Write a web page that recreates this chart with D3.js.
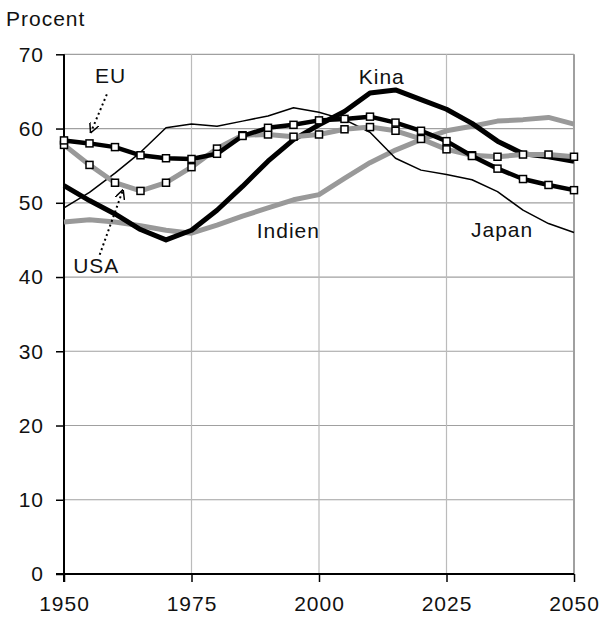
<!DOCTYPE html>
<html>
<head>
<meta charset="utf-8">
<script src="https://cdn.jsdelivr.net/npm/d3@7"></script>
<style>
  body { margin: 0; background: #fff; }
  text { font-family: "Liberation Sans", Arial, sans-serif; fill: #111; }
</style>
</head>
<body>
<svg id="chart" width="603" height="620"></svg>
<script>
// years every 5th year, 1950-2050
const years = d3.range(1950, 2051, 5);

// share of population, percent
const eu     = [58.4, 58.0, 57.5, 56.4, 56.0, 55.9, 56.6, 59.0, 60.1, 60.5, 61.1, 61.3, 61.6, 60.8, 59.7, 58.3, 56.3, 54.6, 53.2, 52.4, 51.7];
const usa    = [57.8, 55.1, 52.7, 51.6, 52.7, 54.8, 57.3, 59.1, 59.2, 58.9, 59.2, 59.9, 60.2, 59.7, 58.6, 57.2, 56.4, 56.2, 56.5, 56.5, 56.2];
const kina   = [52.3, 50.3, 48.5, 46.4, 45.0, 46.3, 49.0, 52.2, 55.6, 58.5, 60.5, 62.3, 64.8, 65.2, 63.9, 62.6, 60.7, 58.3, 56.6, 56.2, 55.6];
const indien = [47.4, 47.7, 47.4, 46.9, 46.3, 45.9, 47.0, 48.2, 49.3, 50.4, 51.1, 53.3, 55.4, 57.1, 58.5, 59.7, 60.3, 61.0, 61.2, 61.5, 60.6];
const japan  = [49.3, 51.4, 54.0, 56.8, 60.1, 60.6, 60.3, 61.0, 61.7, 62.8, 62.2, 61.2, 59.5, 56.0, 54.4, 53.8, 53.1, 51.5, 49.0, 47.2, 46.0];

const xTicks = [1950, 1975, 2000, 2025, 2050];
const yTicks = [0, 10, 20, 30, 40, 50, 60, 70];

// series labels [text, year, value]
const labels = [
  ["EU", 1956.1, 66.2],
  ["USA", 1951.8, 40.6],
  ["Indien", 1987.8, 45.3],
  ["Kina", 2007.8, 66.0],
  ["Japan", 2029.8, 45.4]
];
// dotted pointer arrows [fromYear, fromValue, toYear, toValue]
const arrows = [
  [1958.4, 64.6, 1955.2, 59.4],
  [1957.0, 43.0, 1961.6, 51.8]
];

const margin = { top: 54.3, right: 29, bottom: 46, left: 64 };
const width = 603, height = 620;

const svg = d3.select("#chart");

const x = d3.scaleLinear().domain([1950, 2050]).range([margin.left, width - margin.right]);
const y = d3.scaleLinear().domain([0, 70]).range([height - margin.bottom, margin.top]);

// grid
svg.append("g").selectAll("line")
  .data(yTicks.slice(1))
  .enter().append("line")
  .attr("x1", x(1950)).attr("x2", x(2050))
  .attr("y1", d => y(d)).attr("y2", d => y(d))
  .attr("stroke", "#a0a0a0").attr("stroke-width", 1.2);

svg.append("g").selectAll("line")
  .data(xTicks.slice(1))
  .enter().append("line")
  .attr("x1", d => x(d)).attr("x2", d => x(d))
  .attr("y1", y(0)).attr("y2", y(70))
  .attr("stroke", d => d == 2050 ? "#a0a0a0" : "#bbb")
  .attr("stroke-width", d => d == 2050 ? 2 : 1.2);

// axes
const yAxis = d3.axisLeft(y).tickValues(yTicks).tickSize(8).tickPadding(12);
const xAxis = d3.axisBottom(x).tickValues(xTicks).tickFormat(d3.format("d")).tickSize(8).tickPadding(14);

svg.append("g")
  .attr("transform", `translate(${x(1950)},0)`)
  .call(yAxis)
  .call(g => g.select(".domain").remove());

svg.append("g")
  .attr("transform", `translate(0,${y(0)})`)
  .call(xAxis)
  .call(g => g.select(".domain").remove());

svg.selectAll(".tick line").attr("stroke", "#000").attr("stroke-width", 1.5);
svg.selectAll(".tick text")
  .style("font-size", "21px")
  .style("letter-spacing", "1px")
  .attr("fill", "#111");

svg.append("line")
  .attr("x1", x(1950)).attr("x2", x(1950))
  .attr("y1", y(0) + 8).attr("y2", y(70))
  .attr("stroke", "#000").attr("stroke-width", 2);
svg.append("line")
  .attr("x1", x(1950) - 8).attr("x2", x(2050))
  .attr("y1", y(0)).attr("y2", y(0))
  .attr("stroke", "#000").attr("stroke-width", 2);

svg.append("text")
  .attr("x", 6).attr("y", 26)
  .style("font-size", "21px")
  .style("letter-spacing", "1px")
  .text("Procent");

// lines
const line = d3.line().x((d, i) => x(years[i])).y(d => y(d));

function drawSeries(values, color, w, markers) {
  svg.append("path")
    .datum(values)
    .attr("fill", "none")
    .attr("stroke", color)
    .attr("stroke-width", w)
    .attr("stroke-linejoin", "round")
    .attr("d", line);
  if (markers) {
    svg.append("g").selectAll("rect")
      .data(values)
      .enter().append("rect")
      .attr("x", (d, i) => x(years[i]) - 3.5)
      .attr("y", d => y(d) - 3.5)
      .attr("width", 7).attr("height", 7)
      .attr("fill", "#fff")
      .attr("stroke", "#000")
      .attr("stroke-width", 1.5);
  }
}

drawSeries(indien, "#999", 5, false);
drawSeries(japan, "#000", 1.5, false);
drawSeries(kina, "#000", 5, false);
drawSeries(usa, "#999", 5, true);
drawSeries(eu, "#000", 4.5, true);

// labels
svg.append("g").selectAll("text")
  .data(labels)
  .enter().append("text")
  .attr("x", d => x(d[1])).attr("y", d => y(d[2]))
  .style("font-size", "21px")
  .style("letter-spacing", "1px")
  .text(d => d[0]);

// dotted arrows
svg.append("defs").append("marker")
  .attr("id", "head")
  .attr("viewBox", "0 0 10 10")
  .attr("refX", 10).attr("refY", 5)
  .attr("markerWidth", 10).attr("markerHeight", 10)
  .attr("markerUnits", "userSpaceOnUse")
  .attr("orient", "auto")
  .append("path")
  .attr("d", "M0,0 L10,5 L0,10")
  .attr("fill", "none")
  .attr("stroke", "#000")
  .attr("stroke-width", 1.5);

svg.append("g").selectAll("line")
  .data(arrows)
  .enter().append("line")
  .attr("x1", d => x(d[0])).attr("y1", d => y(d[1]))
  .attr("x2", d => x(d[2])).attr("y2", d => y(d[3]))
  .attr("stroke", "#000")
  .attr("stroke-width", 2)
  .attr("stroke-dasharray", "2,3")
  .attr("marker-end", "url(#head)");
</script>
</body>
</html>
